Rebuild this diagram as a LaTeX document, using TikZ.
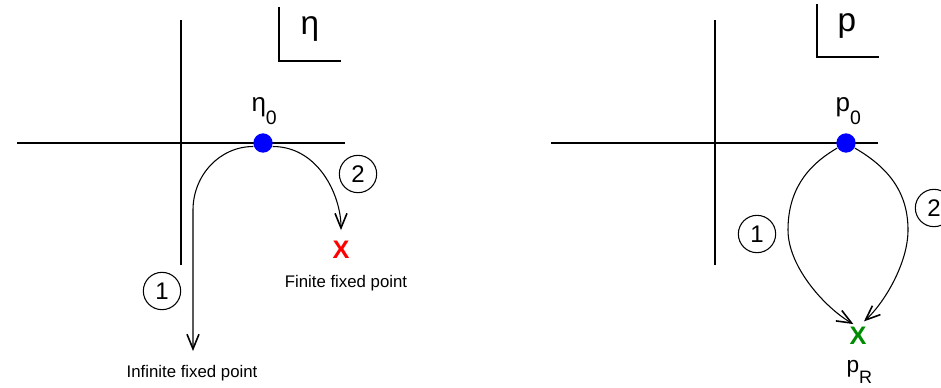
\documentclass[tikz,border=0pt]{standalone}
\usepackage{fontspec}
\setmainfont{Liberation Sans}
\usetikzlibrary{arrows.meta}

\begin{document}
\begin{tikzpicture}[x=0.75pt,y=-0.75pt,>={Straight Barb[length=11pt,width=9pt,line width=1.2pt]},line width=0.8pt]
  \tikzstyle{dot}=[circle,fill=blue,inner sep=0pt,minimum size=14.5pt]
  \tikzstyle{num}=[circle,draw,line width=0.8pt,inner sep=0pt,minimum size=28pt,font=\fontsize{18}{18}\selectfont]
  \tikzstyle{cross}=[inner sep=0pt,font=\fontsize{19}{19}\selectfont\bfseries]
  \tikzstyle{lbl}=[inner sep=0pt,anchor=base,font=\fontsize{12.6}{14}\selectfont]
  \tikzstyle{var}=[inner sep=0pt,anchor=base west,font=\fontsize{19.5}{20}\selectfont]
  \tikzstyle{big}=[inner sep=0pt,anchor=base,font=\fontsize{25}{26}\selectfont]
  \useasboundingbox (0,0) rectangle (941,387);

  % eta plane
  \draw (17,143) -- (345,143);
  \draw (181,20) -- (181,265);
  \draw (279,7) |- (341,61);
  \node[big] (etalab) at (310,34) {η};
  \node[dot] (eta0) at (263,143) {};
  \node[var] (eta0lab) at (251,111) {η\raisebox{-9.75pt}{\fontsize{14.6}{15}\selectfont 0}};
  \node[cross,text=red] (finite) at (341,250) {X};
  \node[lbl] (finlab) at (346,287) {Finite fixed point};
  \node[lbl] (inflab) at (192,377) {Infinite fixed point};
  \coordinate (inf) at (193,351);
  \node[num] (oneL) at (162,291) {1};
  \node[num] (twoL) at (358,174) {2};
  \draw[->] (eta0.200) to[out=180,in=90] (193,210) -- (inf);
  \draw[->,shorten >=8pt] (eta0.-20) to[out=0,in=90] (finite.north);

  % p plane
  \draw (551,143) -- (878,143);
  \draw (715,20) -- (715,265);
  \draw (817,4) |- (879,57);
  \node[big] (plab) at (847,31) {p};
  \node[dot] (p0) at (846,143) {};
  \node[var] (p0lab) at (835,111) {p\raisebox{-9.75pt}{\fontsize{14.6}{15}\selectfont 0}};
  \node[cross,text=green!55!black] (pR) at (858,336) {X};
  \node[inner sep=0pt,anchor=base west,font=\fontsize{17}{18}\selectfont] (pRlab) at (846,372) {p\raisebox{-8.25pt}{\fontsize{13.5}{14}\selectfont R}};
  \node[num] (oneR) at (757,234) {1};
  \node[num] (twoR) at (934,208) {2};
  \draw[->,shorten >=4pt] (p0.210) to[out=210,in=90] (788,230) to[out=-90,in=150,looseness=0.8] (pR.north);
  \draw[->,shorten >=6pt] (p0.-30) to[out=-30,in=90] (908,230) to[out=-90,in=42,looseness=0.8] (pR.north);
\end{tikzpicture}
\end{document}
